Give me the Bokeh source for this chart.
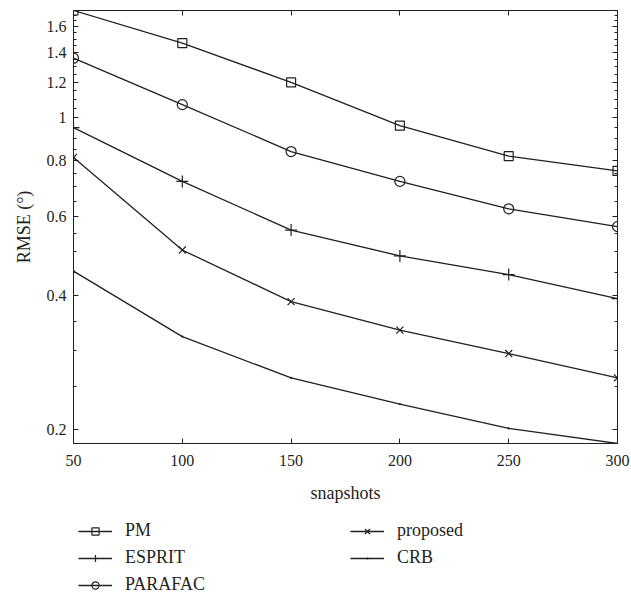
from bokeh.plotting import figure
from bokeh.layouts import column
from bokeh.models import (Range1d, FixedTicker, LinearAxis, LogAxis, Legend,
                          LegendItem, NumeralTickFormatter, CustomJSTickFormatter)
from bokeh.embed import file_html
from bokeh.resources import INLINE

# ---- data ----
snapshots = [50, 100, 150, 200, 250, 300]
pm = [1.74, 1.47, 1.20, 0.96, 0.82, 0.76]
esprit = [0.95, 0.72, 0.56, 0.49, 0.445, 0.393]
parafac = [1.36, 1.07, 0.84, 0.72, 0.625, 0.57]
proposed = [0.815, 0.505, 0.387, 0.334, 0.296, 0.261]
crb = [0.453, 0.323, 0.261, 0.228, 0.201, 0.186]

x_ticks = [50, 100, 150, 200, 250, 300]
y_ticks = [0.2, 0.4, 0.6, 0.8, 1.0, 1.2, 1.4, 1.6]
y_minor = [0.25, 0.3, 0.35, 0.45, 0.5, 0.55, 0.65, 0.7, 0.75, 0.85, 0.9, 0.95,
           1.05, 1.1, 1.15, 1.25, 1.3, 1.35, 1.45, 1.5, 1.55, 1.65, 1.7]

FONT = "Liberation Serif"
INK = "#231f20"

p = figure(width=631, height=515, y_axis_type="log",
           x_range=Range1d(50, 300), y_range=Range1d(0.186, 1.74),
           output_backend="svg", toolbar_location=None,
           min_border_left=73, min_border_right=14, min_border_top=10,
           min_border_bottom=72)
p.xgrid.visible = False
p.ygrid.visible = False
p.outline_line_color = INK
p.outline_line_width = 1
p.background_fill_color = "white"
p.border_fill_color = "white"

xt = FixedTicker(ticks=x_ticks, minor_ticks=[])
yt = FixedTicker(ticks=y_ticks, minor_ticks=y_minor)
blank = CustomJSTickFormatter(code="return '';")


def style(ax, labels=True):
    ax.axis_line_color = INK
    ax.major_tick_line_color = INK
    ax.minor_tick_line_color = INK
    ax.major_tick_in = 5
    ax.major_tick_out = 0
    ax.minor_tick_in = 3
    ax.minor_tick_out = 0
    ax.major_label_text_font = FONT
    ax.major_label_text_color = INK
    ax.major_label_text_font_size = "16px"
    ax.axis_label_text_font = FONT
    ax.axis_label_text_font_style = "normal"
    ax.axis_label_text_color = INK
    ax.axis_label_text_font_size = "18px"
    if not labels:
        ax.formatter = blank
        ax.major_label_standoff = 0


xa = p.xaxis[0]
xa.ticker = xt
xa.axis_label = "snapshots"
style(xa)
xa.major_label_standoff = 11
xa.axis_label_standoff = 14

ya = p.yaxis[0]
ya.ticker = yt
ya.formatter = NumeralTickFormatter(format="0.[0]")
ya.axis_label = "RMSE (°)"
style(ya)
ya.major_label_standoff = 7
ya.axis_label_standoff = 10

top = LinearAxis(ticker=xt)
style(top, labels=False)
p.add_layout(top, "above")
right = LogAxis(ticker=yt)
style(right, labels=False)
p.add_layout(right, "right")

series = [
    ("PM", pm, "square", 9),
    ("ESPRIT", esprit, "cross", 12),
    ("PARAFAC", parafac, "circle", 10),
    ("proposed", proposed, "x", 10),
    ("CRB", crb, "dot", 9),
]

# legend strip below the chart (its own renderers fall outside its ranges)
pl = figure(width=631, height=82, output_backend="svg", toolbar_location=None,
            x_range=Range1d(0, 1), y_range=Range1d(0, 1),
            x_axis_location=None, y_axis_location=None,
            min_border_left=65, min_border_right=0, min_border_top=0,
            min_border_bottom=0)
pl.outline_line_color = None
pl.xgrid.visible = False
pl.ygrid.visible = False

items = []
for name, vals, marker, size in series:
    p.line(snapshots, vals, line_color=INK, line_width=1.3)
    p.scatter(snapshots, vals, marker=marker, size=size, line_color=INK,
              fill_color=INK if marker == "dot" else None, line_width=1.2)
    ln = pl.line(snapshots, vals, line_color=INK, line_width=1.3)
    sc = pl.scatter(snapshots, vals, marker=marker, size=size, line_color=INK,
                    fill_color=INK if marker == "dot" else None, line_width=1.2)
    items.append(LegendItem(label=name, renderers=[ln, sc]))

legend = Legend(items=items, location="top_left", nrows=3, orientation="vertical",
                glyph_width=34, glyph_height=18, label_height=18,
                label_standoff=13, label_width=219, spacing=6, padding=0,
                margin=5, border_line_color=None, background_fill_alpha=0,
                label_text_font=FONT, label_text_font_size="18px",
                label_text_color=INK)
pl.add_layout(legend, "center")

layout = column(p, pl, spacing=0)
open("out.html", "w").write(file_html(layout, INLINE))
